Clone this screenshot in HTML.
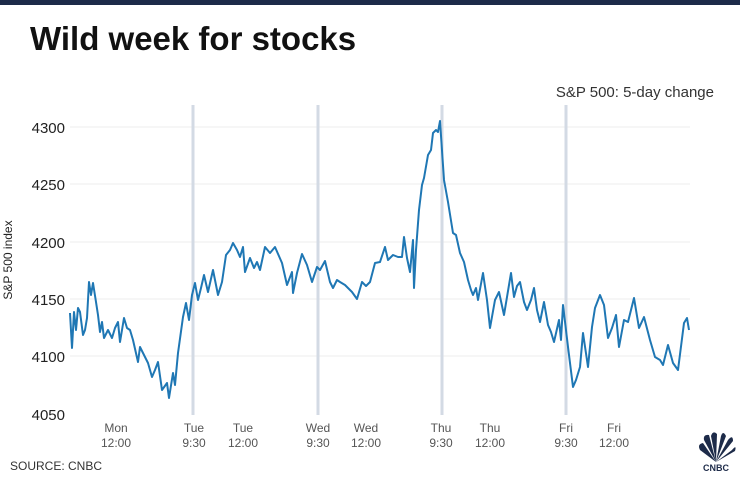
<!DOCTYPE html>
<html><head><meta charset="utf-8"><style>
body{margin:0;width:740px;height:475px;background:#fff;overflow:hidden;font-family:"Liberation Sans",Arial,sans-serif}
</style></head><body>
<svg width="740" height="475" viewBox="0 0 740 475" xmlns="http://www.w3.org/2000/svg" font-family="Liberation Sans, Arial, sans-serif">
<rect x="0" y="0" width="740" height="5" fill="#1d2b49"/>
<text x="30" y="50" font-size="33" font-weight="bold" fill="#111">Wild week for stocks</text>
<text x="714" y="97" font-size="15" fill="#333" text-anchor="end">S&amp;P 500: 5-day change</text>
<g stroke="#eeeeee" stroke-width="1">
<line x1="70" x2="690" y1="127" y2="127"/><line x1="70" x2="690" y1="184" y2="184"/>
<line x1="70" x2="690" y1="242" y2="242"/><line x1="70" x2="690" y1="299" y2="299"/>
<line x1="70" x2="690" y1="356" y2="356"/>
</g>
<g font-size="15" fill="#222" text-anchor="end">
<text x="65" y="133">4300</text><text x="65" y="190">4250</text><text x="65" y="248">4200</text>
<text x="65" y="305">4150</text><text x="65" y="362">4100</text><text x="65" y="420">4050</text>
</g>
<text transform="translate(12,260) rotate(-90)" font-size="12" fill="#222" text-anchor="middle">S&amp;P 500 index</text>
<g stroke="#d3dae4" stroke-width="3">
<line x1="193" x2="193" y1="105" y2="415"/><line x1="318" x2="318" y1="105" y2="415"/>
<line x1="442" x2="442" y1="105" y2="415"/><line x1="566" x2="566" y1="105" y2="415"/>
</g>
<polyline fill="none" stroke="#1f77b4" stroke-width="2" stroke-linejoin="round" points="
70,313 72,348 74,312 76,330 78,308 80,312 83,335 85,330 87,318 89,282 91,295 93,283 96,302 98,315 100,332 102,322 104,338 108,330 112,338 115,328 118,322 120,342 124,318 127,328 130,330 133,340 138,362 140,347 144,355 148,363 152,377 155,370 158,362 162,390 167,383 169,398 173,373 175,385 178,353 183,317 186,303 189,320 192,295
195,283 198,300 201,288 204,275 208,292 213,270 218,295 222,282 226,255 230,250 233,243 237,250 240,257 243,247 245,272 250,258 254,268 257,262 260,270 265,247 270,253 275,247 282,263 287,285 292,272 293,293 297,273 302,254 307,265 312,282 317,267
320,270 325,261 330,282 333,288 337,280 340,282 345,285 352,292 357,299 362,282 366,286 370,282 375,263 380,262 385,247 388,260 393,255 398,257 402,257 404,237 407,258 410,272 413,240 414,288 416,250 419,210 422,185 424,178 428,155 431,150 433,133 436,130 438,132 440,121
444,180 448,202 453,233 456,235 460,253 464,262 468,280 471,290 473,295 476,288 478,300 483,273 487,300 490,328 495,300 499,292 504,315 511,273 514,297 517,286 520,282 524,302 527,310 531,300 534,288 537,310 540,322 544,302 548,325 551,332 554,342 559,320 561,340 563,305
568,347 573,387 576,380 580,367 583,333 588,367 592,327 595,308 600,295 604,305 608,338 612,328 616,315 619,347 624,320 628,322 634,298 639,328 644,317 650,340 655,357 660,360 663,365 668,345 673,363 678,370 684,323 687,318 689,330"/>
<g font-size="12" fill="#555" text-anchor="middle">
<text x="116" y="432">Mon</text><text x="116" y="447">12:00</text>
<text x="194" y="432">Tue</text><text x="194" y="447">9:30</text>
<text x="243" y="432">Tue</text><text x="243" y="447">12:00</text>
<text x="318" y="432">Wed</text><text x="318" y="447">9:30</text>
<text x="366" y="432">Wed</text><text x="366" y="447">12:00</text>
<text x="441" y="432">Thu</text><text x="441" y="447">9:30</text>
<text x="490" y="432">Thu</text><text x="490" y="447">12:00</text>
<text x="566" y="432">Fri</text><text x="566" y="447">9:30</text>
<text x="614" y="432">Fri</text><text x="614" y="447">12:00</text>
</g>
<text x="10" y="470" font-size="12" fill="#333">SOURCE: CNBC</text>
<g fill="#1d2b49">
<path d="M716,462 L700,450 Q697,444 703,443 Z"/>
<path d="M716,462 L704,440 Q703,434 709,435 Z"/>
<path d="M716,462 L711,436 Q713,430 717,434 Z"/>
<path d="M716,462 L721,436 Q723,430 726,436 Z"/>
<path d="M716,462 L728,440 Q733,434 733,441 Z"/>
<path d="M716,462 L732,450 Q737,444 735,451 Z"/>
<text x="716" y="471" font-size="9" font-weight="bold" text-anchor="middle">CNBC</text>
</g>
</svg>
</body></html>
